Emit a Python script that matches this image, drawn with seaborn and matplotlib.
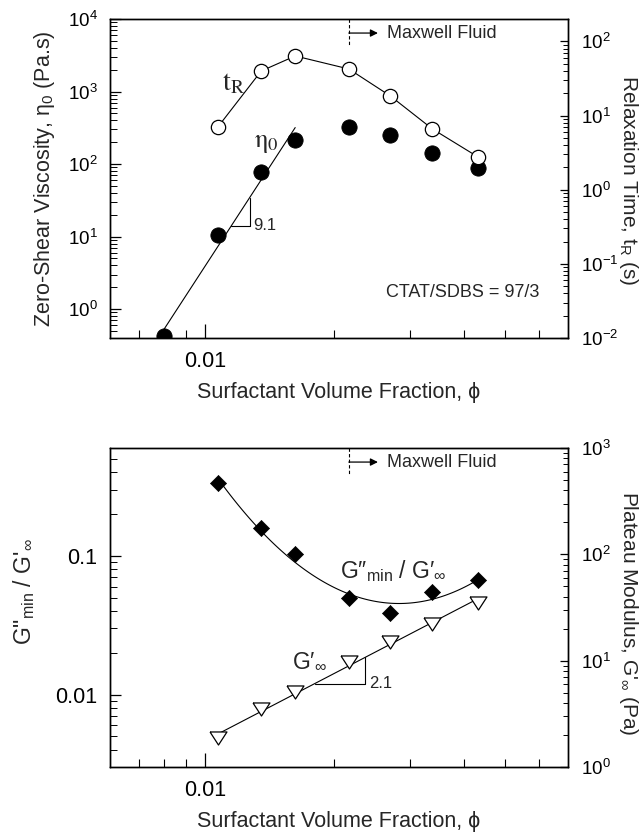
import numpy as np
import matplotlib
matplotlib.use("Agg")
import matplotlib.pyplot as plt
import matplotlib.ticker as mticker
import matplotlib.transforms as mtransforms
import seaborn as sns

# ---- data -------------------------------------------------------------
# surfactant volume fractions
phi = [0.0080, 0.0107, 0.0135, 0.0162, 0.0216, 0.0270, 0.0338, 0.0432]
# zero-shear viscosity (Pa.s), one value per phi
eta0 = [0.42, 10.5, 77.6, 214, 324, 251, 142, 88]
# relaxation time (s), for phi[1:]
t_relax = [7.0, 39.8, 63.5, 42.4, 18.3, 6.6, 2.76]
# loss-modulus minimum over plateau modulus, for phi[1:]
g_ratio = [0.336, 0.159, 0.103, 0.0497, 0.0387, 0.0548, 0.0670]
# plateau modulus (Pa), for phi[1:]
g_plateau = [1.87, 3.51, 5.07, 9.7, 15.0, 22.1, 34.9]

eta_slope = 9.1          # power-law exponent of eta0 below the peak
g_slope = 2.1            # power-law exponent of the plateau modulus
maxwell_phi = 0.0216     # onset of Maxwellian behaviour
blend_label = "CTAT/SDBS = 97/3"

x_major = [0.01]
x_major_labels = ["0.01"]
x_minor = [0.007, 0.008, 0.009, 0.02, 0.03, 0.04, 0.05, 0.06]

# ---- style ------------------------------------------------------------
sns.set_theme(style="ticks")
plt.rcParams["font.family"] = ["Liberation Sans", "DejaVu Sans"]
plt.rcParams["mathtext.fontset"] = "custom"
plt.rcParams["mathtext.rm"] = "Liberation Sans"
plt.rcParams["mathtext.it"] = "Liberation Sans:italic"
plt.rcParams["mathtext.bf"] = "Liberation Sans:bold"
plt.rcParams["axes.unicode_minus"] = False
plt.rcParams["axes.linewidth"] = 1.0
plt.rcParams["axes.edgecolor"] = "black"

K = "black"
LW = 0.8

fig = plt.figure(figsize=(6.43, 8.34), dpi=100)
ax1 = fig.add_axes([0.1711, 0.5947, 0.7123, 0.3825])
ax3 = fig.add_axes([0.1711, 0.0803, 0.7123, 0.3825])
ax2 = ax1.twinx()
ax4 = ax3.twinx()

for a in (ax1, ax2, ax3, ax4):
    a.set_xscale("log")
    a.set_yscale("log")
    for s in a.spines.values():
        s.set_linewidth(1.0)
        s.set_color(K)

# ---- top panel: viscosity and relaxation time --------------------------
lphi = np.log10(phi)
b_eta = np.mean(np.log10(eta0[:4]) - eta_slope * lphi[:4])
eta_line = lambda x: 10 ** (b_eta + eta_slope * np.log10(x))
xf = np.geomspace(phi[0], phi[3], 60)
sns.lineplot(x=xf, y=eta_line(xf), ax=ax1, color=K, lw=LW, sort=False)
sns.scatterplot(x=phi, y=eta0, ax=ax1, marker="o", s=11 ** 2,
                color=K, edgecolor=K, linewidth=0.6, zorder=5)

sns.lineplot(x=phi[1:], y=t_relax, ax=ax2, color=K, lw=LW, marker="o",
             markersize=10.3, markerfacecolor="white", markeredgecolor=K,
             markeredgewidth=0.9, sort=False)

# slope triangle on the eta0 power law
xa, xb = 0.01151, 0.01269
ax1.plot([xa, xb, xb], [eta_line(xa), eta_line(xa), eta_line(xb)], color=K, lw=LW)
ax1.text(xb * 1.02, eta_line(xa), f"{eta_slope}", fontsize=12, ha="left", va="center")

ax1.set_xlim(0.006, 0.07)
ax1.set_ylim(0.4, 1e4)
ax2.set_ylim(0.01, 200)

ax1.text(0.245, 0.80, r"$\mathrm{t_R}$", transform=ax1.transAxes, fontsize=20,
         math_fontfamily="stix", ha="left", va="center")
ax1.text(0.315, 0.612, r"$\mathrm{\eta_0}$", transform=ax1.transAxes, fontsize=19,
         math_fontfamily="stix", ha="left", va="center")
ax1.text(0.769, 0.144, blend_label, transform=ax1.transAxes, fontsize=13,
         ha="center", va="center")

# ---- bottom panel: modulus ratio and plateau modulus ------------------
lx = np.log10(phi[1:])
coef = np.polyfit(lx, np.log10(g_ratio), 2)
xr = np.geomspace(phi[1], phi[-1], 120)
sns.lineplot(x=xr, y=10 ** np.polyval(coef, np.log10(xr)), ax=ax3, color=K,
             lw=LW, sort=False)
sns.scatterplot(x=phi[1:], y=g_ratio, ax=ax3, marker="D", s=8.2 ** 2,
                color=K, edgecolor=K, linewidth=0.5, zorder=5)

b_g = np.mean(np.log10(g_plateau) - g_slope * lx)
g_line = lambda x: 10 ** (b_g + g_slope * np.log10(x))
xg = np.geomspace(phi[1], phi[-1], 60)
sns.lineplot(x=xg, y=g_line(xg), ax=ax4, color=K, lw=LW, sort=False)
tri = [(-1.0, 0.77), (1.0, 0.77), (0.0, -0.77), (-1.0, 0.77)]
sns.scatterplot(x=phi[1:], y=g_plateau, ax=ax4, marker=tri, s=12.2 ** 2,
                facecolor="white", edgecolor=K, linewidth=0.9, zorder=5)

xa, xb = 0.0180, 0.0236
ax4.plot([xa, xb, xb], [g_line(xa), g_line(xa), g_line(xb)], color=K, lw=LW)
ax4.text(xb * 1.02, g_line(xa), f"{g_slope}", fontsize=12, ha="left", va="center")

ax3.set_xlim(0.006, 0.07)
ax3.set_ylim(0.003, 0.6)
ax4.set_ylim(1, 1000)

ax3.text(0.502, 0.592, "G\u2033$_\\mathrm{min}$ / G\u2032$_\\infty$",
         transform=ax3.transAxes, fontsize=16.5, ha="left", va="baseline")
ax3.text(0.397, 0.312, "G\u2032$_\\infty$", transform=ax3.transAxes,
         fontsize=16.5, ha="left", va="baseline")

# ---- Maxwell fluid marker on both panels ------------------------------
for a in (ax1, ax3):
    tr = mtransforms.blended_transform_factory(a.transData, a.transAxes)
    a.plot([maxwell_phi, maxwell_phi], [1.0, 0.915], transform=tr, color=K,
           lw=0.8, ls=(0, (3, 2)), clip_on=False)
    a.annotate("", xy=(0.02525, 0.956), xytext=(maxwell_phi, 0.956),
               xycoords=tr, textcoords=tr,
               arrowprops=dict(arrowstyle="-|>", lw=0.9, color=K,
                               mutation_scale=11, shrinkA=0, shrinkB=0))
    a.text(0.02652, 0.956, "Maxwell Fluid", transform=tr, fontsize=13,
           ha="left", va="center")

# ---- ticks ------------------------------------------------------------
for a in (ax1, ax3):
    a.xaxis.set_major_locator(mticker.FixedLocator(x_major))
    a.xaxis.set_major_formatter(mticker.FixedFormatter(x_major_labels))
    a.xaxis.set_minor_locator(mticker.FixedLocator(x_minor))
    a.xaxis.set_minor_formatter(mticker.NullFormatter())
    a.tick_params(axis="x", which="major", direction="in", length=10, width=0.9,
                  labelsize=15.5, pad=9, top=False, bottom=True, colors=K)
    a.tick_params(axis="x", which="minor", direction="in", length=6, width=0.8,
                  top=False, bottom=True, colors=K)
    a.tick_params(axis="y", which="major", direction="in", length=8, width=0.9,
                  pad=9, left=True, right=False, colors=K)
    a.tick_params(axis="y", which="minor", direction="in", length=5, width=0.7,
                  left=True, right=False, colors=K)
    a.yaxis.set_minor_locator(mticker.LogLocator(base=10, subs=np.arange(2, 10), numticks=20))
    a.yaxis.set_minor_formatter(mticker.NullFormatter())

ax1.yaxis.set_major_locator(mticker.LogLocator(base=10, numticks=20))
ax1.tick_params(axis="y", labelsize=13.5)
ax3.yaxis.set_major_locator(mticker.FixedLocator([0.01, 0.1]))
ax3.yaxis.set_major_formatter(mticker.FixedFormatter(["0.01", "0.1"]))
ax3.tick_params(axis="y", labelsize=15.5)

for a in (ax2, ax4):
    a.yaxis.set_major_locator(mticker.LogLocator(base=10, numticks=20))
    a.yaxis.set_minor_locator(mticker.LogLocator(base=10, subs=np.arange(2, 10), numticks=20))
    a.yaxis.set_minor_formatter(mticker.NullFormatter())
    a.tick_params(axis="y", which="major", direction="in", length=6, width=0.9,
                  labelsize=13.5, pad=9, right=True, left=False, colors=K)
    a.tick_params(axis="y", which="minor", direction="in", length=3.5, width=0.7,
                  right=True, left=False, colors=K)

# ---- axis labels ------------------------------------------------------
LBL = 15.5
for a in (ax1, ax3):
    a.set_xlabel("Surfactant Volume Fraction, \u03d5", fontsize=LBL)
    a.xaxis.set_label_coords(0.5, -0.172)
    a.xaxis.label.set_va("center")

ax1.set_ylabel("Zero-Shear Viscosity, \u03b7$_0$ (Pa.s)", fontsize=LBL)
ax1.yaxis.set_label_coords(-0.142, 0.5)
ax1.yaxis.label.set_va("center")

ax2.set_ylabel("Relaxation Time, t$_\\mathrm{R}$ (s)", fontsize=15, rotation=270)
ax2.yaxis.set_label_coords(1.133, 0.495)
ax2.yaxis.label.set_va("center")

ax3.set_ylabel("G\"$_\\mathrm{min}$ / G'$_\\infty$", fontsize=LBL + 1)
ax3.yaxis.set_label_coords(-0.188, 0.549)
ax3.yaxis.label.set_va("center")

ax4.set_ylabel("Plateau Modulus, G'$_\\infty$ (Pa)", fontsize=15, rotation=270)
ax4.yaxis.set_label_coords(1.133, 0.483)
ax4.yaxis.label.set_va("center")

fig.savefig("out.png", dpi=100, facecolor="white")
